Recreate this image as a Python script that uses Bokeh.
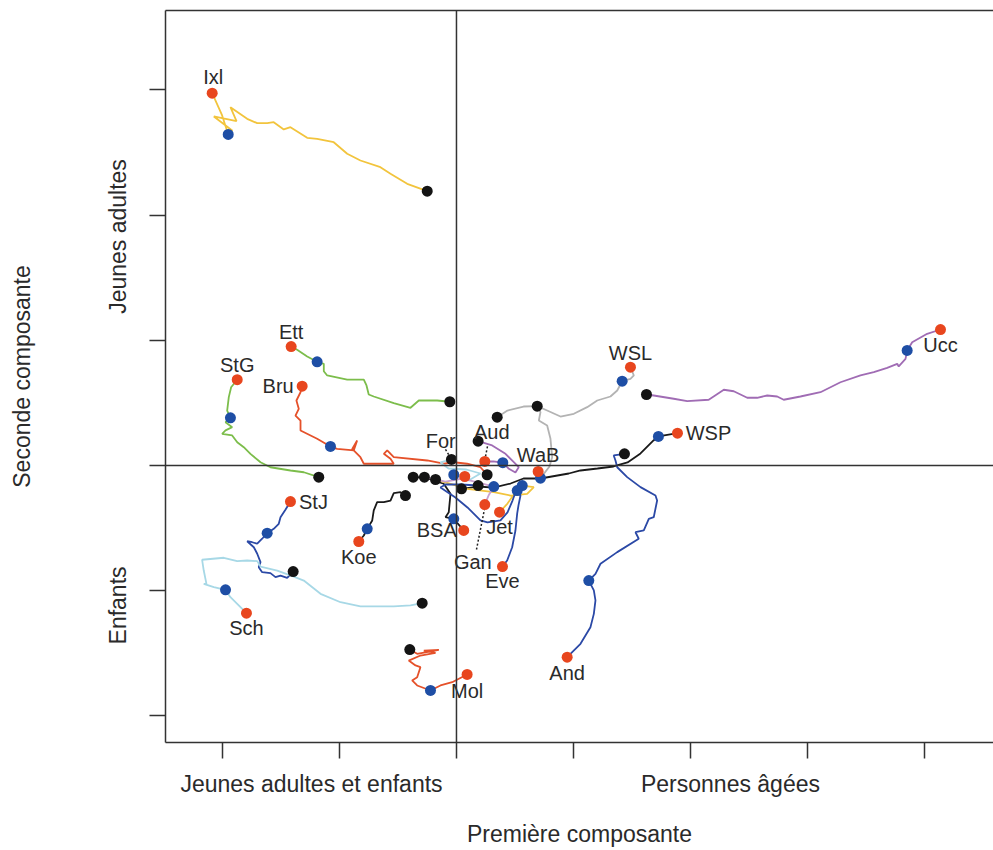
import math
from bokeh.plotting import figure
from bokeh.models import FixedTicker, LinearAxis, Span, ColumnDataSource
from bokeh.core.properties import value
from bokeh.embed import file_html
from bokeh.resources import INLINE

# ---- data (principal components, trajectories black -> blue -> red) ----
names = ["Ixl", "Ett", "StG", "Bru", "WSL", "WaB", "Ucc", "WSP", "And", "StJ",
         "Sch", "Koe", "Mol", "Aud", "For", "BSA", "Jet", "Eve", "Gan"]

ixl_x = [-0.250, -0.421, -0.564, -0.650, -0.821, -0.934, -1.049, -1.191, -1.276, -1.419, -1.476,
         -1.562, -1.618, -1.703, -1.789, -1.932, -1.880, -2.074, -1.917, -1.951, -2.003, -2.088]
ixl_y = [2.191, 2.250, 2.330, 2.383, 2.436, 2.490, 2.582, 2.609, 2.617, 2.702, 2.684,
         2.742, 2.734, 2.734, 2.769, 2.862, 2.750, 2.788, 2.676, 2.644, 2.796, 2.974]

ett_x = [-0.057, -0.165, -0.322, -0.393, -0.536, -0.707, -0.750, -0.769, -0.792, -0.934, -1.105,
         -1.134, -1.134, -1.191, -1.276, -1.362, -1.413]
ett_y = [0.509, 0.519, 0.519, 0.461, 0.498, 0.551, 0.567, 0.639, 0.685, 0.685, 0.719,
         0.753, 0.812, 0.828, 0.871, 0.924, 0.950]

stg_x = [-1.177, -1.305, -1.419, -1.590, -1.675, -1.761, -1.818, -1.874, -1.917, -2.003, -1.974,
         -1.917, -1.974, -1.932, -1.960, -1.946, -1.926, -1.874]
stg_y = [-0.093, -0.054, -0.040, -0.014, 0.026, 0.093, 0.146, 0.186, 0.240, 0.253, 0.280,
         0.306, 0.346, 0.381, 0.439, 0.546, 0.625, 0.685]

bru_x = [0.262, 0.205, 0.091, -0.023, -0.109, -0.250, -0.536, -0.592, -0.621, -0.564, -0.536,
         -0.792, -0.821, -0.891, -0.849, -0.878, -1.020, -1.077, -1.191, -1.333, -1.333, -1.376,
         -1.348, -1.368, -1.333, -1.319]
bru_y = [-0.074, -0.014, 0.014, 0.026, 0.014, 0.040, 0.066, 0.120, 0.093, 0.054, 0.014,
         0.014, 0.066, 0.133, 0.200, 0.120, 0.133, 0.152, 0.213, 0.280, 0.359, 0.399,
         0.453, 0.519, 0.585, 0.633]

wsl_x = [0.348, 0.436, 0.573, 0.690, 0.775, 0.889, 1.003, 1.117, 1.203, 1.316, 1.374, 1.416,
         1.487, 1.516, 1.487]
wsl_y = [0.386, 0.439, 0.471, 0.474, 0.439, 0.391, 0.413, 0.466, 0.519, 0.551, 0.599, 0.673,
         0.692, 0.719, 0.785]

wab_x = [0.690, 0.718, 0.704, 0.775, 0.803, 0.818, 0.795, 0.718, 0.698]
wab_y = [0.474, 0.426, 0.359, 0.319, 0.216, 0.066, -0.008, -0.101, -0.048]

ucc_x = [1.624, 1.686, 1.857, 1.972, 2.156, 2.285, 2.370, 2.485, 2.570, 2.656, 2.741, 2.797,
         2.940, 3.111, 3.282, 3.453, 3.567, 3.681, 3.767, 3.780, 3.838, 3.852, 3.895, 4.023, 4.137]
ucc_y = [0.567, 0.559, 0.533, 0.514, 0.525, 0.605, 0.593, 0.541, 0.541, 0.559, 0.551, 0.525,
         0.551, 0.585, 0.665, 0.719, 0.745, 0.780, 0.812, 0.791, 0.852, 0.919, 0.985, 1.052, 1.086]

wsp_x = [0.043, 0.185, 0.316, 0.462, 0.573, 0.718, 0.863, 0.960, 1.060, 1.205, 1.342, 1.462,
         1.573, 1.684, 1.726, 1.889]
wsp_y = [-0.186, -0.168, -0.176, -0.144, -0.104, -0.104, -0.080, -0.064, -0.040, -0.024, -0.008,
         0.024, 0.096, 0.200, 0.232, 0.258]

and_x = [1.436, 1.344, 1.359, 1.374, 1.459, 1.573, 1.701, 1.715, 1.686, 1.644, 1.601, 1.530,
         1.558, 1.374, 1.231, 1.188, 1.131, 1.174, 1.188, 1.174, 1.145, 1.060, 0.946]
and_y = [0.093, 0.080, 0.040, -0.014, -0.093, -0.173, -0.240, -0.280, -0.413, -0.426, -0.519,
         -0.533, -0.585, -0.692, -0.785, -0.865, -0.919, -0.998, -1.078, -1.185, -1.292, -1.424,
         -1.531]

stj_x = [-1.396, -1.447, -1.504, -1.547, -1.590, -1.661, -1.690, -1.675, -1.703, -1.732, -1.789,
         -1.746, -1.703, -1.661, -1.618, -1.562, -1.519, -1.504, -1.462, -1.419]
stj_y = [-0.847, -0.897, -0.879, -0.892, -0.860, -0.852, -0.812, -0.772, -0.705, -0.653, -0.605,
         -0.613, -0.625, -0.585, -0.541, -0.506, -0.466, -0.413, -0.354, -0.288]

sch_x = [-0.293, -0.393, -0.536, -0.821, -0.991, -1.162, -1.305, -1.391, -1.532, -1.675, -1.703,
         -1.789, -1.874, -1.989, -2.174, -2.160, -2.137, -2.160, -2.074, -1.974, -1.932, -1.874,
         -1.795]
sch_y = [-1.100, -1.118, -1.126, -1.126, -1.092, -1.025, -0.919, -0.887, -0.839, -0.807, -0.764,
         -0.759, -0.764, -0.737, -0.753, -0.839, -0.945, -0.945, -0.972, -0.993, -1.052, -1.105,
         -1.180]

koe_x = [-0.436, -0.479, -0.536, -0.564, -0.621, -0.678, -0.707, -0.720, -0.763, -0.792, -0.835]
koe_y = [-0.240, -0.213, -0.221, -0.280, -0.293, -0.293, -0.359, -0.439, -0.506, -0.559, -0.607]

mol_x = [-0.399, -0.336, -0.151, -0.279, -0.179, -0.308, -0.408, -0.350, -0.308, -0.336, -0.379,
         -0.336, -0.222, -0.137, -0.037, 0.091]
mol_y = [-1.470, -1.504, -1.472, -1.478, -1.496, -1.518, -1.558, -1.597, -1.611, -1.691, -1.717,
         -1.757, -1.797, -1.757, -1.731, -1.669]

aud_x = [0.185, 0.305, 0.419, 0.490, 0.532, 0.504, 0.444, 0.396, 0.316, 0.242]
aud_y = [0.194, 0.160, 0.093, 0.026, -0.014, -0.056, -0.024, 0.022, 0.032, 0.032]

for_x = [-0.043, -0.137, -0.068, 0.085, 0.205, 0.103, -0.023, 0.071]
for_y = [0.048, 0.024, -0.024, -0.032, -0.064, -0.120, -0.074, -0.088]

bsa_x = [-0.370, -0.274, -0.194, -0.109, -0.051, -0.066, -0.094, -0.023, 0.062]
bsa_y = [-0.093, -0.096, -0.120, -0.146, -0.226, -0.373, -0.413, -0.426, -0.519]

jet_x = [-0.179, -0.051, 0.091, 0.319, 0.462, 0.604, 0.661, 0.562, 0.496, 0.436, 0.368]
jet_y = [-0.112, -0.146, -0.186, -0.213, -0.240, -0.226, -0.173, -0.160, -0.224, -0.304, -0.373]

eve_x = [0.185, 0.034, -0.094, -0.137, -0.009, 0.094, 0.205, 0.265, 0.376, 0.436, 0.479, 0.504,
         0.519, 0.547, 0.530, 0.519, 0.504, 0.476, 0.433, 0.393]
eve_y = [-0.160, -0.152, -0.152, -0.176, -0.256, -0.335, -0.439, -0.455, -0.439, -0.375, -0.280,
         -0.216, -0.200, -0.240, -0.319, -0.383, -0.519, -0.653, -0.759, -0.807]

gan_x = [-0.274, -0.094, 0.051, 0.188, 0.319, 0.274, 0.242]
gan_y = [-0.093, -0.128, -0.104, -0.136, -0.168, -0.240, -0.312]

# intermediate (blue) points, same order as names
blue_x = [-1.951, -1.191, -1.932, -1.077, 1.416, 0.718, 3.852, 1.726, 1.131, -1.618,
          -1.974, -0.763, -0.222, 0.396, -0.023, -0.023, 0.562, 0.519, 0.319]
blue_y = [2.644, 0.828, 0.381, 0.152, 0.673, -0.101, 0.919, 0.232, -0.919, -0.541,
          -0.993, -0.506, -1.797, 0.022, -0.074, -0.426, -0.160, -0.200, -0.168]

# dotted leader lines (For, Aud, Gan)
leader_x0 = [-0.094, 0.265, 0.171]
leader_y0 = [0.128, 0.152, -0.671]
leader_x1 = [-0.051, 0.248, 0.239]
leader_y1 = [0.064, 0.072, -0.351]

# axis category labels and their positions on the component scales
x_ticks = [-2, -1, 0, 1, 2, 3, 4]
y_ticks = [-2, -1, 0, 1, 2, 3]
x_cat_pos = [-1.239, 2.342]
x_cat_lab = ["Jeunes adultes et enfants", "Personnes âgées"]
y_cat_pos = [1.829, -1.118]
y_cat_lab = ["Jeunes adultes", "Enfants"]

paths_x = [ixl_x, ett_x, stg_x, bru_x, wsl_x, wab_x, ucc_x, wsp_x, and_x, stj_x,
           sch_x, koe_x, mol_x, aud_x, for_x, bsa_x, jet_x, eve_x, gan_x]
paths_y = [ixl_y, ett_y, stg_y, bru_y, wsl_y, wab_y, ucc_y, wsp_y, and_y, stj_y,
           sch_y, koe_y, mol_y, aud_y, for_y, bsa_y, jet_y, eve_y, gan_y]

# ---- styles ----
YEL, GRN, ORG, GRY, PUR, DBL, LBL, BLK, LPU = ("#F2C43D", "#7CBD4B", "#E5512A", "#B3B3B3",
                                              "#A06CB4", "#2B49A6", "#A7D8E6", "#1A1A1A", "#C9A0CF")
line_colors = [YEL, GRN, GRN, ORG, GRY, GRY, PUR, BLK, DBL, DBL,
               LBL, BLK, ORG, PUR, LBL, BLK, YEL, DBL, LPU]
lab_dx = [1, 0, 0, -24, 0, 0, 0, 31, 0, 23, 0, 0, 0, 7, -24, -27, 0, 0, -12]
lab_dy = [-16, -15, -15, 0, -14, -16, 15, 0, 16, 0, 15, 16, 17, -29, -36, 0, 15, 14, 57]

FONT = "Liberation Sans"
TXT = "#2a2a2a"
AX = "#333333"

p = figure(width=993, height=850, x_range=(-2.487, 4.590), y_range=(-2.2125, 3.634),
           min_border_left=165, min_border_right=0, min_border_top=10, min_border_bottom=108,
           output_backend="svg", toolbar_location=None)
p.background_fill_color = "white"
p.border_fill_color = "white"
p.outline_line_color = None
p.xgrid.visible = False
p.ygrid.visible = False

for ax, ticks in ((p.xaxis[0], x_ticks), (p.yaxis[0], y_ticks)):
    ax.ticker = FixedTicker(ticks=ticks)
    ax.major_label_text_font_size = "0px"
    ax.major_label_overrides = {t: "" for t in ticks}
    ax.major_label_standoff = 0
    ax.major_tick_in = 0
    ax.major_tick_out = 16
    ax.major_tick_line_color = AX
    ax.major_tick_line_width = 1.5
    ax.minor_tick_line_color = None
    ax.axis_line_color = AX
    ax.axis_line_width = 1.5

def cat_axis(pos, labs, title, vertical, standoff, title_standoff):
    a = LinearAxis(ticker=FixedTicker(ticks=pos, minor_ticks=[]),
                   major_label_overrides={v: t for v, t in zip(pos, labs)},
                   major_label_text_font=FONT, major_label_text_font_size="23px",
                   major_label_text_color=TXT, major_label_standoff=standoff,
                   major_tick_line_color=None, minor_tick_line_color=None,
                   major_tick_out=0, major_tick_in=0, axis_line_color=None,
                   axis_label=title, axis_label_text_font=FONT,
                   axis_label_text_font_size="23px", axis_label_text_font_style="normal",
                   axis_label_text_color=TXT, axis_label_standoff=title_standoff)
    if vertical:
        a.major_label_orientation = "vertical"
    return a

p.add_layout(cat_axis(x_cat_pos, x_cat_lab, "Première composante", False, 12, 21), "below")
p.add_layout(cat_axis(y_cat_pos, y_cat_lab, "Seconde composante", True, 18, 68), "left")

top = LinearAxis(ticker=FixedTicker(ticks=[]), major_label_text_font_size="0px",
                 major_tick_line_color=None, minor_tick_line_color=None,
                 axis_line_color=AX, axis_line_width=1.5)
p.add_layout(top, "above")

p.add_layout(Span(location=0, dimension="height", line_color=AX, line_width=1.5))
p.add_layout(Span(location=0, dimension="width", line_color=AX, line_width=1.5))

for xs, ys, c in zip(paths_x, paths_y, line_colors):
    p.line(xs, ys, line_color=c, line_width=1.8)

p.segment(leader_x0, leader_y0, leader_x1, leader_y1, line_color="#222222",
          line_width=1.5, line_dash="2 2")

black_x = [xs[0] for xs in paths_x]
black_y = [ys[0] for ys in paths_y]
red_x = [xs[-1] for xs in paths_x]
red_y = [ys[-1] for ys in paths_y]

p.scatter(black_x, black_y, size=11, fill_color="#141414", line_color=None)
p.scatter(blue_x, blue_y, size=11, fill_color="#1E4EA5", line_color=None)
p.scatter(red_x, red_y, size=11, fill_color="#E8461E", line_color=None)

src = ColumnDataSource(dict(x=red_x, y=red_y, t=names, dx=lab_dx, dy=lab_dy))
p.text(x="x", y="y", text="t", x_offset="dx", y_offset="dy", source=src,
       text_font=value(FONT), text_font_size="20px", text_align="center",
       text_baseline="middle", text_color=TXT)

open("out.html", "w").write(file_html(p, INLINE))
